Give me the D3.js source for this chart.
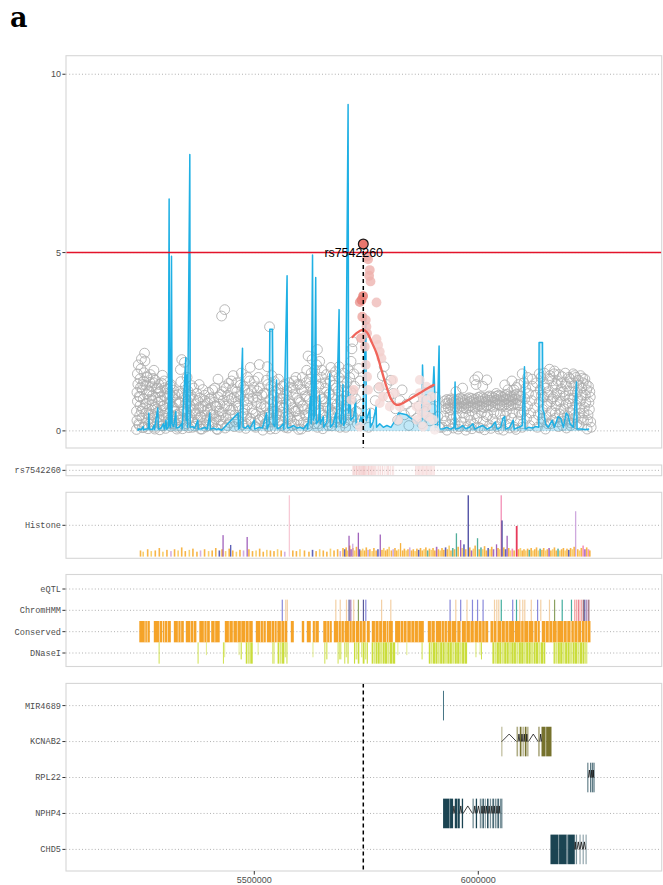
<!DOCTYPE html>
<html>
<head>
<meta charset="utf-8">
<script src="https://cdn.jsdelivr.net/npm/d3@7"></script>
<style>
  body { margin: 0; background: #fff; }
  svg { display: block; }
</style>
</head>
<body>
<svg id="fig" width="663" height="885"></svg>
<script>
// ---------------- data (positions in kb on chr1, values as drawn) ----------------
const leadSnp = { id: "rs7542260", kb: 5743.3, logp: 5.24 };
const gwsThreshold = 5;
const yTicks = [0, 5, 10];
const xTicksBp = [5500000, 6000000];

// -log10(p) of variants outside the LD block (open grey circles)
const gwasWest = [[5237,0.04],[5238,0.29],[5237,0.55],[5239,0.83],[5238,1.08],[5240,1.31],[5239,1.6],[5241,1.85],[5243,0.16],[5244,0.43],[5245,0.71],[5243,0.97],[5246,1.22],[5245,1.46],[5247,1.74],[5248,2.02],[5250,0.09],[5249,0.36],[5251,0.62],[5252,0.9],[5250,1.15],[5253,1.39],[5254,1.63],[5256,1.96],[5255,2.18],[5257,0.21],[5258,0.5],[5259,0.77],[5260,1.04],[5258,1.28],[5261,1.52],[5263,0.06],[5264,0.33],[5265,0.6],[5266,0.88],[5264,1.13],[5267,1.36],[5268,1.58],[5270,0.18],[5271,0.46],[5272,0.73],[5273,1.0],[5271,1.24],[5274,1.47],[5276,1.7],[5277,0.1],[5278,0.39],[5279,0.66],[5280,0.94],[5281,1.19],[5279,1.42],[5283,0.24],[5284,0.52],[5285,0.8],[5286,1.07],[5287,1.3],[5289,0.03],[5290,0.31],[5291,0.58],[5292,0.85],[5291,1.11],[5293,1.34],[5295,1.56],[5296,0.14],[5297,0.44],[5298,0.7],[5299,0.98],[5300,1.21],[5302,0.07],[5303,0.35],[5304,0.63],[5305,0.91],[5306,1.17],[5308,0.2],[5309,0.49],[5310,0.76],[5311,1.03],[5312,1.27],[5314,0.12],[5315,0.4],[5317,0.68],[5318,0.95],[5320,1.14],[5322,0.26],[5323,0.54],[5325,0.81],[5327,0.05],[5328,0.37],[5329,1.02]];
const gwasMidWest = [[5331,0.15],[5332,0.48],[5334,0.79],[5333,1.1],[5336,1.38],[5335,1.72],[5338,2.0],[5344,1.92],[5340,0.06],[5341,0.34],[5343,0.62],[5344,0.95],[5346,1.25],[5348,0.2],[5349,0.53],[5351,0.84],[5352,1.12],[5354,0.09],[5356,0.41],[5357,0.7],[5359,1.0],[5360,1.27],[5362,0.25],[5364,0.57],[5365,0.88],[5367,0.13],[5369,0.45],[5370,0.74],[5372,1.05],[5374,0.3],[5376,0.62],[5378,0.92],[5380,0.05],[5381,0.38],[5383,0.69],[5385,1.16],[5387,0.22],[5389,0.55],[5390,0.85],[5392,0.11],[5394,0.43],[5396,0.78],[5398,1.08],[5400,0.28],[5402,0.6],[5404,0.93],[5406,0.16],[5408,0.48],[5410,0.8],[5412,1.2],[5414,0.34],[5416,0.67],[5418,0.04],[5419,1.45],[5421,0.4],[5423,0.75],[5425,1.02],[5427,3.22],[5434,3.4],[5427,0.19],[5429,0.52],[5431,0.86],[5433,1.24],[5435,0.08],[5437,0.36],[5439,0.7],[5441,1.0],[5443,1.33],[5445,0.23],[5447,0.58],[5449,0.9],[5451,1.18],[5453,1.55],[5455,0.12],[5457,0.45],[5459,0.8],[5461,1.1],[5463,0.3],[5465,0.64],[5467,0.96],[5469,1.28],[5471,1.62],[5473,0.18],[5475,0.5],[5477,0.83],[5479,1.15],[5481,0.07],[5483,0.4],[5485,0.73],[5487,1.05],[5489,1.4],[5491,1.78],[5493,0.26],[5495,0.6],[5497,0.92],[5499,1.22],[5501,0.14],[5503,0.47],[5505,0.79],[5507,1.12],[5509,1.5],[5511,1.86],[5513,0.33],[5515,0.66],[5517,1.0],[5519,0.02]];
const gwasCentre = [[5521,0.35],[5523,0.7],[5525,1.05],[5527,1.42],[5529,1.8],[5531,0.12],[5533,0.5],[5534,2.92],[5535,0.88],[5537,1.25],[5539,0.25],[5541,0.62],[5543,1.0],[5545,1.38],[5547,0.06],[5549,0.44],[5551,0.82],[5553,1.18],[5555,0.3],[5557,0.68],[5559,1.05],[5561,0.15],[5563,0.52],[5565,0.9],[5567,1.3],[5569,0.38],[5571,0.75],[5573,1.12],[5575,0.08],[5577,0.46],[5579,0.84],[5581,1.22],[5583,0.28],[5585,0.65],[5587,1.02],[5589,1.4],[5591,0.18],[5593,0.55],[5595,0.92],[5597,1.3],[5599,0.04],[5601,0.42],[5603,0.8],[5605,1.16],[5607,1.5],[5609,0.24],[5611,0.6],[5613,0.98],[5615,1.35],[5617,1.7],[5619,0.12],[5620,2.1],[5621,0.5],[5623,0.88],[5625,1.25],[5627,1.62],[5629,2.0],[5631,0.32],[5633,0.7],[5635,1.08],[5637,1.45],[5639,1.85],[5641,2.28],[5643,0.2],[5645,0.58],[5646,1.95],[5647,0.95],[5649,1.32],[5651,1.7],[5653,0.06],[5655,0.44],[5657,0.82],[5659,1.2],[5661,1.58],[5663,0.26],[5665,0.64],[5667,1.02],[5669,1.4],[5671,1.78],[5673,0.14],[5675,0.52],[5677,0.9],[5679,1.28],[5681,1.66],[5683,0.36],[5685,0.74],[5687,1.12],[5689,1.5],[5691,0.1],[5693,0.48],[5695,0.86],[5697,1.24],[5699,1.62],[5701,0.22],[5703,0.6],[5705,0.98],[5707,1.36],[5709,1.74],[5711,0.3],[5713,0.7],[5715,1.1],[5526,0.2],[5544,0.55],[5562,0.72],[5580,0.35],[5598,0.62],[5616,0.4],[5634,0.2],[5652,0.9],[5670,0.6],[5688,0.25],[5706,0.45]];
const gwasDense = [[5242,0.2],[5245,0.95],[5248,0.55],[5251,1.3],[5254,0.1],[5257,0.75],[5260,1.5],[5263,0.45],[5266,1.1],[5269,0.25],[5272,0.85],[5275,1.35],[5278,0.05],[5281,0.6],[5284,1.2],[5287,0.4],[5290,0.95],[5293,0.15],[5296,0.7],[5299,1.4],[5302,0.5],[5305,1.05],[5308,0.3],[5311,0.8],[5314,1.3],[5317,0.2],[5320,0.65],[5323,1.0],[5326,0.45],[5329,0.1],[5332,0.8],[5335,0.3],[5338,1.05],[5341,0.55],[5344,0.15],[5347,0.75],[5350,1.5],[5353,0.35],[5356,0.95],[5359,0.6],[5362,0.1],[5365,1.2],[5368,0.5],[5371,0.2],[5374,0.85],[5377,1.3],[5380,0.4],[5383,0.05],[5386,0.7],[5389,1.0],[5392,0.3],[5395,0.6],[5398,0.15],[5401,0.9],[5404,0.45],[5407,1.15],[5410,0.25],[5413,0.7],[5416,0.05],[5419,0.95],[5422,0.55],[5425,0.3],[5428,1.1],[5431,0.4],[5434,0.7],[5437,1.2],[5440,0.15],[5443,0.85],[5446,0.45],[5449,1.4],[5452,0.6],[5455,0.95],[5458,0.25],[5461,1.35],[5464,0.7],[5467,0.1],[5470,1.0],[5473,0.4],[5476,1.25],[5479,0.6],[5482,0.2],[5485,1.5],[5488,0.9],[5491,0.35],[5494,1.1],[5497,0.5],[5500,1.4],[5503,0.1],[5506,0.95],[5509,0.3],[5512,1.2],[5515,0.75],[5518,0.4],[5521,1.05],[5524,0.2],[5527,0.65],[5530,1.3],[5533,0.45],[5536,0.05],[5539,1.55],[5542,0.8],[5545,0.3],[5548,1.1],[5551,0.5],[5554,1.45],[5557,0.2],[5560,0.9],[5563,1.25],[5566,0.65],[5569,0.1],[5572,1.0],[5575,0.4],[5578,1.35],[5581,0.75],[5584,0.15],[5587,1.2],[5590,0.55],[5593,1.5],[5596,0.3],[5599,0.85],[5602,1.3],[5605,0.05],[5608,0.7],[5611,1.15],[5614,0.45],[5617,0.95],[5620,0.2],[5623,1.45],[5626,0.6],[5629,1.1],[5632,0.35],[5635,1.7],[5638,0.8],[5641,0.1],[5644,1.25],[5647,0.5],[5650,1.5],[5653,0.9],[5656,0.3],[5659,1.35],[5662,0.65],[5665,0.15],[5668,1.05],[5671,0.45],[5674,1.55],[5677,0.75],[5680,0.25],[5683,1.2],[5686,0.55],[5689,1.8],[5692,0.85],[5695,0.3],[5698,1.4],[5701,0.7],[5704,0.1],[5707,1.1],[5710,0.5],[5713,1.5]];
const gwasLocus = [[5716,1.95],[5718,2.3],[5720,2.5],[5722,1.6],[5724,1.25],[5726,0.9],[5728,0.55],[5730,0.2],[5719,1.05],[5721,0.4],[5733,1.75],[5736,1.4],[5738,0.75],[5740,0.3],[5755,0.1],[5760,0.5],[5770,0.85],[5778,1.2],[5786,1.55],[5790,1.8],[5795,1.3],[5800,0.95],[5805,1.42],[5810,1.05],[5815,0.62],[5820,0.3],[5825,0.85],[5830,1.15],[5835,0.45],[5840,0.75],[5845,0.15],[5850,0.55],[5856,0.9],[5862,0.35],[5868,0.7],[5874,0.2],[5880,0.55],[5886,0.88],[5892,0.28],[5898,0.62],[5904,0.95],[5910,0.4],[5914,0.1]];
const gwasEast = [[5925,0.84],[5930,0.88],[5935,0.86],[5940,0.9],[5945,0.87],[5950,0.85],[5955,0.89],[5960,0.92],[5965,0.88],[5970,0.86],[5975,0.9],[5980,0.93],[5985,0.91],[5990,0.88],[5995,0.9],[6000,0.94],[6005,0.96],[6010,0.93],[6015,0.9],[6020,0.95],[6025,0.98],[6030,0.96],[6035,0.93],[6040,0.97],[6045,1.0],[6050,0.98],[6055,0.95],[6060,0.99],[6065,1.02],[6070,0.98],[6075,0.96],[6080,1.0],[6085,1.03],[6090,0.99],[6095,0.97],
  [5928,0.62],[5933,0.65],[5938,0.6],[5943,0.64],[5948,0.67],[5953,0.63],[5958,0.66],[5963,0.69],[5968,0.65],[5973,0.62],[5978,0.66],[5983,0.7],[5988,0.67],[5993,0.64],[5998,0.68],[6003,0.71],[6008,0.68],[6013,0.65],[6018,0.7],[6023,0.73],[6028,0.7],[6033,0.67],[6038,0.72],[6043,0.75],[6048,0.72],[6053,0.69],[6058,0.73],[6063,0.76],[6068,0.72],[6073,0.7],[6078,0.74],[6083,0.77],[6088,0.74],[6093,0.71],
  [5920,0.1],[5927,0.28],[5934,0.15],[5941,0.32],[5948,0.2],[5955,0.05],[5962,0.25],[5969,0.38],[5976,0.12],[5983,0.3],[5990,0.18],[5997,0.35],[6004,0.08],[6011,0.27],[6018,0.4],[6025,0.15],[6032,0.33],[6039,0.22],[6046,0.05],[6053,0.3],[6060,0.42],[6067,0.18],[6074,0.36],[6081,0.1],[6088,0.28],[6095,0.45],
  [5992,1.43],[5999,1.52],[6019,1.43],[5995,1.3],[6040,1.05],[6059,1.29],[6066,1.15],[6075,1.4],[6085,1.22],[6098,1.6],[5950,1.1],[5965,1.2],[6010,1.25]];
const gwasEastRibbon = [[5927.5,0.76],[5932.5,0.78],[5937.5,0.74],[5942.5,0.79],[5947.5,0.77],[5952.5,0.75],[5957.5,0.78],[5962.5,0.82],[5967.5,0.78],[5972.5,0.75],[5977.5,0.79],[5982.5,0.83],[5987.5,0.8],[5992.5,0.77],[5997.5,0.8],[6002.5,0.84],[6007.5,0.83],[6012.5,0.8],[6017.5,0.82],[6022.5,0.86],[6027.5,0.85],[6032.5,0.82],[6037.5,0.85],[6042.5,0.88],[6047.5,0.86],[6052.5,0.83],[6057.5,0.87],[6062.5,0.9],[6067.5,0.86],[6072.5,0.84],[6077.5,0.88],[6082.5,0.9],[6087.5,0.87],[6092.5,0.85],
  [5923,0.42],[5937,0.45],[5951,0.4],[5965,0.5],[5979,0.44],[5993,0.48],[6007,0.5],[6021,0.45],[6035,0.52],[6049,0.47],[6063,0.55],[6077,0.5],[6091,0.52],[5930,0.02],[5944,0.08],[5958,0.12],[5972,0.02],[5986,0.06],[6000,0.1],[6014,0.03],[6028,0.07],[6042,0.12],[6056,0.02],[6070,0.08],[6084,0.04],[6098,0.1],
  [6102,1.35],[6110,1.5],[6120,1.45],[6090,1.3],[6080,1.15]];
const gwasFar = [[6100,0.2],[6102,0.55],[6104,0.9],[6106,1.2],[6108,0.35],[6110,0.7],[6112,1.05],[6115,0.15],[6117,0.5],[6119,0.85],[6121,1.25],[6124,0.3],[6126,0.65],[6128,1.0],[6130,1.35],[6132,0.1],[6134,0.45],[6136,0.8],[6138,1.15],[6140,1.5],[6142,0.25],[6144,0.6],[6146,0.95],[6148,1.3],[6150,0.05],[6152,0.4],[6154,0.75],[6156,1.1],[6158,1.45],[6159,1.73],[6161,0.2],[6163,0.55],[6165,0.9],[6167,1.25],[6169,1.6],[6171,0.35],[6173,0.7],[6175,1.05],[6177,1.4],[6179,0.12],[6181,0.48],[6183,0.82],[6185,1.18],[6187,1.52],[6189,0.28],[6191,0.62],[6193,0.98],[6195,1.32],[6197,0.08],[6199,0.42],[6201,0.78],[6203,1.12],[6205,1.46],[6207,0.22],[6209,0.58],[6211,0.92],[6213,1.26],[6215,1.55],[6217,0.38],[6219,0.72],[6221,1.08],[6223,1.42],[6225,0.15],[6227,0.5],[6229,0.85],[6231,1.2],[6233,1.48],[6235,0.3],[6237,0.66],[6239,1.0],[6241,1.3],[6243,0.05],[6245,0.45],[6247,0.8],[6249,1.1],[6251,0.25]];
const gwasFarDense = [[6136,1.6],[6141,1.0],[6143,0.35],[6147,1.62],[6151,1.2],[6153,0.7],[6155,0.2],[6157,1.0],[6160,1.55],[6162,0.82],[6164,1.4],[6166,0.3],[6168,0.95],[6170,1.68],[6172,0.5],[6174,1.3],[6176,0.85],[6178,0.25],[6180,1.58],[6182,1.0],[6184,0.6],[6186,1.35],[6188,0.15],[6190,1.1],[6192,0.45],[6194,1.62],[6196,0.75],[6198,1.25],[6200,0.3],[6202,1.5],[6204,0.9],[6206,0.15],[6208,1.35],[6210,0.75],[6212,1.6],[6214,0.45],[6216,1.1],[6218,1.5],[6220,0.2],[6222,0.9],[6224,1.28],[6226,0.65],[6228,1.55],[6230,0.35],[6232,1.0],[6234,1.35],[6236,0.5],[6238,1.45],[6240,0.8],[6242,1.15],[6244,0.3],[6246,1.25],[6248,0.6],[6250,0.95],[6252,0.1]];

// variants in LD with the lead SNP: [kb, -log10 p, r2]
const ldSnps = [[5751.8,4.89,0.45],[5754.0,4.81,0.4],[5757.8,4.51,0.38],[5756.3,4.35,0.4],[5759.4,4.19,0.35],[5742.9,3.78,0.75],[5739.3,3.67,0.72],[5735.5,3.61,0.55],[5772.8,3.6,0.3],[5741,3.2,0.45],[5738,2.6,0.4],[5748.9,3.11,0.35],[5750.4,2.92,0.3],[5751.8,2.74,0.3],[5772.8,2.57,0.22],[5776.4,2.41,0.2],[5780.1,2.22,0.2],[5783.9,2.04,0.18],[5746.7,2.36,0.28],[5748.9,1.85,0.2],[5751.8,1.52,0.18],[5754,1.15,0.15],[5780.1,1.24,0.18],[5787.5,0.96,0.15],[5809.8,1.43,0.15],[5813.6,1.06,0.12],[5802.5,0.68,0.1],[5780.1,0.78,0.12],[5722.1,1.15,0.2],[5717,0.87,0.15],[5735.5,0.12,0.1],[5821,0.31,0.1],[5869.4,1.06,0.12],[5876.8,0.87,0.1],[5884.4,0.68,0.12],[5862.1,0.68,0.1],[5873.2,0.5,0.1],[5888,0.4,0.1],[5899.1,0.31,0.08],[5863.4,0.31,0.1],[5876.8,0.12,0.08],[5895.5,0.96,0.1],[5884.4,1.24,0.1],[5869.4,1.43,0.1],[5902.9,0.03,0.02],[5824.8,0.68,0.1]];

// smoothed association trend across the LD block
const ldTrend = [[5719.2,2.63],[5728.1,2.74],[5742.9,2.83],[5751.8,2.76],[5761.6,2.5],[5772.8,2.18],[5783.9,1.71],[5795.1,1.24],[5806.3,0.87],[5817.4,0.73],[5828.6,0.76],[5847.1,0.89],[5869.4,1.06],[5888,1.2],[5900.7,1.29]];

// signal trace (blue)
const signalTrace = [[5240,0],[5241,0.05],[5248,0.04],[5252,0.12],[5253,0.03],[5258,0.05],[5263,0.06],[5264.6,0.5],[5266,0.05],[5272,0.04],[5276,0.15],[5277,0.04],[5284.6,0.64],[5286,0.05],[5292,0.08],[5297,0.2],[5299,0.05],[5303,0.3],[5304,0.05],[5308,0.1],[5309.9,6.5],[5311,0.15],[5313,0.1],[5315.2,4.9],[5316.5,0.2],[5320,0.12],[5324.8,0.54],[5326,0.08],[5332,0.1],[5338,0.2],[5339,0.06],[5347.1,2.05],[5348,0.3],[5350,1.57],[5351,0.1],[5356.1,7.75],[5357,0.1],[5362,0.12],[5367,0.08],[5374,0.3],[5375,0.05],[5382,0.06],[5390,0.1],[5395,0.05],[5400.7,0.5],[5402,0.05],[5410,0.08],[5415,0.04],[5420,0.06],[5426.8,0.02],[5463.9,0.5],[5465,0.05],[5468,0.1],[5473.7,2.32],[5475,0.1],[5480,0.08],[5486,0.15],[5490,0.06],[5500,0.3],[5501,0.05],[5510,0.1],[5518,0.08],[5527.3,0.5],[5528.5,0.05],[5533,0.2],[5534.6,2.85],[5540.6,2.85],[5542,0.2],[5546,0.12],[5549.6,1.43],[5551,0.06],[5558,0.1],[5565,0.2],[5566,0.05],[5573.2,4.35],[5574.5,0.08],[5580,0.1],[5588,0.15],[5595,0.08],[5602,0.1],[5610,0.06],[5618,0.2],[5619,0.05],[5625.5,0.96],[5627,0.2],[5630,4.93],[5631.5,0.3],[5634,0.4],[5637.1,4.3],[5638.5,0.2],[5644,0.3],[5646,1.0],[5647.5,0.2],[5654,0.4],[5655,0.1],[5662,0.25],[5668.5,1.6],[5670,0.1],[5676,0.2],[5682,0.5],[5683,0.1],[5689.3,3.4],[5690.5,0.3],[5694,0.2],[5698,1.3],[5699.5,0.15],[5704,0.3],[5709.4,9.15],[5710.5,0.5],[5714,1.0],[5715.5,0.3],[5722,0.4],[5726,0.9],[5727.5,0.15],[5734,0.2],[5738,0.4],[5742,0.2],[5748.9,3.25],[5750,0.3],[5758,0.6],[5759,0.1],[5765,0.25],[5772,0.68],[5773,0.1],[5780,0.2],[5788,0.1],[5796,0.15],[5805,0.1],[5815,0.3],[5822,0.5],[5840,0.45],[5850,0.35],[5858,0.3],[5865,0.2],[5874,0.3],[5875.5,1.85],[5877,1.2],[5890,1.2],[5899,1.25],[5901,1.8],[5902.5,1.2],[5904,0.1],[5908,0.1],[5912.5,2.38],[5914,0.05],[5922,0.06],[5930,0.1],[5938,0.05],[5946,0.1],[5948.2,1.37],[5949.5,0.05],[5958,0.08],[5965,0.15],[5972,0.06],[5980,0.1],[5988,0.2],[5992,0.05],[6000,0.1],[6010,0.15],[6020,0.05],[6030,0.12],[6038,0.25],[6042,0.05],[6050,0.1],[6055,0.35],[6059.1,0.4],[6061,0.05],[6070,0.1],[6078,0.3],[6080,0.05],[6090,0.1],[6098,0.15],[6103.1,1.8],[6104.5,0.05],[6112,0.1],[6120,0.08],[6128,0.12],[6135,0.1],[6135.7,2.48],[6143.3,2.48],[6144,0.6],[6147,0.5],[6150,0.2],[6156,0.1],[6165,0.3],[6170,0.1],[6178,0.4],[6184,0.35],[6190,0.1],[6196,0.5],[6200,0.45],[6205,0.2],[6212,0.1],[6219.2,1.37],[6220.5,0.05],[6230,0.05],[6240,0.04],[6247.4,0.05]];

// LD (r2) of nearby variants with rs7542260
const ldTrack = [[5720,0.25],[5722.5,0.4],[5725,0.3],[5728,0.5],[5731,0.35],[5734,0.6],[5737,0.3],[5740,0.55],[5743,0.7],[5746,0.4],[5749,0.5],[5752,0.3],[5755,0.45],[5758,0.35],[5761,0.5],[5764,0.25],[5767,0.4],[5770,0.3],[5774,0.2],[5778,0.35],[5782,0.25],[5786,0.3],[5790,0.15],[5794,0.1],[5797,0.25],[5800,0.3],[5804,0.15],[5808,0.2],[5811,0.12],[5860,0.2],[5863,0.25],[5866,0.3],[5869,0.2],[5872,0.25],[5875,0.3],[5878,0.2],[5881,0.25],[5884,0.3],[5887,0.2],[5890,0.25],[5893,0.2],[5896,0.25],[5899,0.2],[5902,0.15]];

// histone marks: [kb, relative signal, mark]
const histoneBase = [[5246,0.1,'o'],[5252,0.08,'y'],[5262,0.12,'o'],[5270,0.09,'y'],[5279,0.1,'o'],[5288,0.14,'o'],[5296,0.08,'y'],[5305,0.11,'o'],[5314,0.09,'l'],[5322,0.12,'o'],[5330,0.1,'y'],[5338,0.15,'o'],[5346,0.09,'o'],[5355,0.11,'y'],[5363,0.13,'o'],[5372,0.08,'o'],[5380,0.1,'l'],[5389,0.12,'o'],[5398,0.09,'y'],[5406,0.1,'o'],[5414,0.14,'o'],[5422,0.1,'b'],[5428,0.12,'o'],[5436,0.09,'y'],[5444,0.13,'o'],[5452,0.1,'o'],[5460,0.08,'y'],[5468,0.11,'o'],[5476,0.1,'l'],[5488,0.12,'o'],[5496,0.09,'o'],[5504,0.1,'y'],[5512,0.13,'o'],[5520,0.08,'o'],[5528,0.11,'y'],[5536,0.1,'o'],[5544,0.09,'o'],[5552,0.12,'y'],[5560,0.1,'o'],[5568,0.08,'l'],[5586,0.1,'o'],[5594,0.09,'o'],[5602,0.12,'y'],[5612,0.1,'o'],[5622,0.08,'o'],[5630,0.11,'b'],[5638,0.09,'o'],[5646,0.12,'y'],[5654,0.1,'o'],[5662,0.08,'o'],[5670,0.13,'y'],[5678,0.1,'o'],[5686,0.12,'o'],[5692,0.09,'l'],[5698,0.14,'o'],
  [5702,0.12,'b'],[5705,0.15,'o'],[5708,0.1,'y'],[5713,0.18,'o'],[5716,0.12,'p'],[5720,0.14,'o'],[5724,0.1,'y'],[5728,0.16,'o'],[5735,0.12,'b'],[5738,0.1,'o'],[5742,0.13,'y'],[5746,0.1,'o'],[5750,0.15,'o'],[5754,0.11,'l'],[5758,0.12,'o'],[5763,0.09,'y'],[5767,0.14,'o'],[5772,0.1,'o'],[5776,0.12,'b'],[5785,0.11,'o'],[5789,0.14,'y'],[5793,0.1,'o'],[5797,0.12,'o'],[5801,0.16,'y'],[5806,0.1,'o'],[5810,0.12,'l'],[5814,0.14,'o'],[5818,0.1,'o'],[5822,0.12,'y'],[5831,0.1,'o'],[5835,0.13,'o'],[5839,0.1,'y'],[5843,0.12,'o'],[5847,0.15,'l'],[5851,0.1,'o'],[5855,0.12,'o'],[5859,0.09,'y'],[5863,0.13,'o'],[5867,0.11,'b'],[5871,0.14,'o'],[5875,0.1,'o'],[5879,0.12,'y'],[5883,0.15,'o'],[5887,0.1,'t'],[5891,0.13,'o'],[5895,0.11,'y'],[5899,0.14,'o'],[5903,0.1,'o'],[5907,0.16,'p'],[5911,0.12,'o'],[5915,0.1,'y'],[5919,0.14,'o'],[5923,0.11,'o'],[5927,0.15,'b'],[5931,0.12,'o'],[5935,0.18,'y'],[5939,0.1,'o'],[5943,0.14,'t'],[5947,0.12,'o'],[5955,0.16,'o'],[5964,0.14,'y'],[5968,0.2,'b'],[5972,0.12,'o'],[5981,0.15,'o'],[5985,0.1,'p'],[5989,0.13,'y'],[5993,0.18,'o'],[6002,0.12,'o'],[6006,0.15,'t'],[6010,0.12,'y'],[6014,0.17,'o'],[6018,0.1,'o'],[6022,0.14,'b'],[6026,0.12,'y'],[6030,0.16,'o'],[6034,0.12,'p'],[6044,0.14,'o'],[6048,0.12,'y'],[6057,0.15,'o'],[6061,0.12,'b'],[6068,0.14,'o'],[6072,0.1,'y'],[6076,0.13,'k'],[6080,0.1,'o'],[6090,0.12,'o'],[6094,0.14,'y'],[6098,0.1,'o'],[6102,0.12,'o'],[6106,0.1,'y'],[6110,0.13,'o'],[6114,0.11,'t'],[6118,0.14,'o'],[6122,0.1,'y'],[6126,0.12,'o'],[6130,0.15,'o'],[6134,0.1,'y'],[6138,0.13,'t'],[6142,0.11,'o'],[6146,0.14,'o'],[6150,0.1,'y'],[6154,0.12,'o'],[6158,0.14,'p'],[6162,0.1,'o'],[6166,0.12,'y'],[6170,0.15,'o'],[6174,0.1,'o'],[6178,0.13,'t'],[6182,0.1,'y'],[6186,0.12,'o'],[6190,0.14,'o'],[6194,0.1,'y'],[6198,0.13,'o'],[6202,0.11,'b'],[6206,0.14,'o'],[6210,0.12,'y'],[6214,0.16,'o'],[6222,0.12,'o'],[6226,0.1,'y'],[6230,0.14,'o'],[6234,0.18,'k'],[6238,0.12,'p'],[6242,0.15,'o'],[6246,0.12,'k'],[6249,0.1,'o']];
const histonePeaks = [[5578.4,1.0,'s'],[5430.4,0.35,'p'],[5447.4,0.19,'b'],[5484.2,0.32,'p'],[5711.6,0.34,'p'],[5719.9,0.21,'l'],[5732.4,0.39,'p'],[5781.3,0.36,'p'],[5826.6,0.22,'o'],[5951.3,0.38,'t'],[5960.7,0.27,'p'],[5977.7,1.0,'d'],[5998.4,0.3,'t'],[6040.8,0.2,'p'],[6051.3,1.0,'k'],[6053.1,0.59,'d'],[6064.5,0.34,'p'],[6085.3,0.5,'r'],[6217.4,0.74,'l']];

// annotation tracks
const annotLevels = ["eQTL", "ChromHMM", "Conserved", "DNaseI"];
const chromHMM = [[5562.5,'b'],[5570.3,'t'],[5573.7,'t'],[5682,'t'],[5691.8,'t'],[5705.8,'t'],[5711.6,'B'],[5715.4,'p'],[5722,'t'],[5732.4,'o'],[5743.6,'B'],[5748.9,'b'],[5784.2,'t'],[5804.7,'t'],[5937,'b'],[5949.8,'t'],[5960.7,'b'],[5974.8,'t'],[5987,'b'],[5998.4,'b'],[6010.7,'b'],[6036.2,'t'],[6041.3,'t'],[6045.8,'t'],[6051.3,'g'],[6076.8,'b'],[6085.3,'g'],[6092.6,'t'],[6099.3,'t'],[6103.8,'t'],[6118.3,'t'],[6132.4,'b'],[6139.5,'t'],[6158.9,'t'],[6170.3,'o'],[6187.3,'g'],[6208,'g'],[6215.4,'k'],[6219.8,'k'],[6224.3,'r'],[6229.7,'k'],[6234.4,'m'],[6237.7,'B'],[6242.2,'p'],[6246.7,'m']];
const conserved = [[5243.3,5266.8],[5275.7,5294],[5295.5,5313.7],[5320.4,5342.7],[5347.1,5370.8],[5377.3,5400.7],[5403.8,5422.8],[5434.2,5452],[5453.5,5470],[5471,5496.5],[5503.4,5525.7],[5527.9,5550],[5551.5,5573.7],[5581.5,5588.2],[5606,5611.4],[5617.2,5626.1],[5630.6,5644],[5654,5673],[5677.5,5700],[5701.5,5725],[5726.5,5748.5],[5751.1,5757.8],[5762.3,5785],[5786.5,5809.2],[5814.3,5840],[5841.5,5878.4],[5887.3,5902.9],[5905.1,5930],[5931.5,5951.1],[5953.1,5960.5],[5963.2,5990],[5991.5,6022.1],[6027.2,6040.8],[6042.8,6080],[6081.5,6123],[6125,6137.3],[6141.7,6175],[6176.5,6206],[6207.8,6230],[6231.5,6250.4]];
// hairline breaks inside conserved blocks
const conservedBreaks = [5256,5261,5288,5300,5306,5330,5336,5358,5364,5388,5394,5412,5444,5462,5480,5488,5514,5520,5538,5545,5560,5567,5636,5662,5668,5688,5694,5712,5718,5735,5741,5770,5778,5795,5800,5826,5833,5850,5858,5866,5895,5918,5924,5940,5973,5982,6000,6008,6015,6034,6052,6060,6068,6095,6102,6112,6132,6150,6158,6166,6190,6198,6214,6222,6238,6244];
// DNase I hypersensitivity: [start kb, end kb, relative depth, strong?]
const dnase = [[5286.5,5288,1,1],[5373.5,5375,1,1],[5392,5393.5,0.6,0],[5430,5431.5,1,1],[5433,5434.5,0.7,0],[5465,5467,0.6,0],[5469.5,5472,0.8,1],[5481,5484,1,1],[5484.8,5490,1,0],[5491,5496.5,1,1],[5507.5,5509,0.6,0],[5540.5,5542,1,1],[5543,5545.5,1,0],[5552,5555.5,1,1],[5556.5,5561,1,0],[5562,5567,1,1],[5568,5571,0.7,0],[5571.8,5574,1,1],[5630,5632,0.7,0],[5656.5,5658.5,1,1],[5660,5663.5,0.8,0],[5686,5688,1,1],[5689,5694.5,0.8,0],[5701,5703,1,1],[5704,5707,0.7,0],[5708,5710.5,1,1],[5722.5,5725,1,1],[5726,5730,0.8,0],[5731,5734.5,1,1],[5738.5,5741,0.7,0],[5742,5746,1,1],[5747,5750,0.8,0],[5751,5753.5,1,1],[5762,5765.5,1,1],[5766.3,5770,1,0],[5770.8,5775,1,1],[5775.8,5780,1,1],[5780.8,5786,1,0],[5786.8,5791,1,1],[5791.8,5797,1,1],[5797.8,5802,1,0],[5802.8,5808,1,1],[5808.8,5814.5,1,1],[5819.5,5821,0.6,0],[5839.5,5841,0.6,0],[5873.5,5875,0.8,1],[5889.5,5893,1,1],[5893.8,5898,1,0],[5898.8,5903.5,1,1],[5904.3,5909,1,1],[5909.8,5914,1,0],[5914.8,5919.5,1,1],[5920.3,5925,1,1],[5925.8,5930,1,0],[5930.8,5936,1,1],[5936.8,5941,1,1],[5941.8,5947,1,0],[5947.8,5952,1,1],[5952.8,5958,1,1],[5958.8,5963,1,0],[5963.8,5969,1,1],[5969.8,5975,1,1],[5993.5,5996,0.7,0],[6003,6005,0.6,0],[6006,6008,0.8,1],[6031.5,6035,1,1],[6035.8,6040,1,0],[6040.8,6046,1,1],[6046.8,6051,1,1],[6051.8,6057,1,0],[6057.8,6062,1,1],[6062.8,6068,1,1],[6068.8,6073,1,0],[6073.8,6079,1,1],[6079.8,6084,1,1],[6084.8,6090,1,0],[6090.8,6095,1,1],[6095.8,6101,1,1],[6101.8,6106,1,0],[6106.8,6112,1,1],[6112.8,6117,1,1],[6117.8,6123,1,0],[6123.8,6128,1,1],[6128.8,6134,1,1],[6134.8,6139,1,0],[6139.8,6145,1,1],[6145.8,6149.5,1,1],[6168,6171,1,1],[6171.8,6177,1,0],[6177.8,6182,1,1],[6182.8,6188,1,1],[6188.8,6193,1,0],[6193.8,6199,1,1],[6199.8,6204,1,1],[6204.8,6210,1,0],[6210.8,6215,1,1],[6215.8,6221,1,1],[6221.8,6226,1,0],[6226.8,6232,1,1],[6232.8,6237,1,1],[6237.8,6243.5,1,0]];

// gene models: exons [start kb, end kb, dark?]
const geneNames = ["MIR4689", "KCNAB2", "RPL22", "NPHP4", "CHD5"];
const exonsMIR4689 = [[5921.2,5921.8,1]];
const exonsKCNAB2 = [[6051.5,6052.5,0],[6085.3,6088.9,0],[6092.6,6096.4,1],[6098.7,6101.6,0],[6103.8,6107.6,1],[6109,6112.1,0],[6133.5,6137.3,0],[6141.1,6149,1],[6149,6151.5,0],[6151.5,6163.4,1]];
const exonsRPL22 = [[6242.9,6246,0],[6250,6252,1],[6254.5,6256,1],[6257.5,6260,0]];
const exonsNPHP4 = [[5921.4,5935.5,1],[5935.5,5937,0],[5937,5943.8,1],[5947.5,5952.5,1],[5953.5,5958.7,1],[5963.2,5966.1,1],[5987,5990,0],[5994.4,5997.3,1],[6003.3,6007.1,0],[6009.4,6012.3,1],[6014.5,6016.7,0],[6019.6,6022.8,1],[6025.7,6028.6,0],[6031.7,6034.6,1],[6036.8,6040.6,0],[6042.8,6045.8,1],[6048,6054,0]];
const exonsCHD5 = [[6161.1,6178.1,1],[6178.1,6180.3,0],[6180.3,6196.9,1],[6196.9,6200.4,0],[6200.4,6215.4,1],[6217.6,6220.5,0],[6226,6227.2,0],[6233,6234.2,0],[6239.5,6241.5,0]];

// ---------------- drawing ----------------
const svg = d3.select("#fig");
const bp = kb => kb * 1000;
const PL = 66, PR = 661.7;
const x = d3.scaleLinear().domain([5079700, 6409400]).range([PL, PR]);

const panels = {
  main:  { top: 55.7,  bottom: 448 },
  ld:    { top: 465,   bottom: 475.7 },
  hist:  { top: 492.3, bottom: 558.3 },
  annot: { top: 574.5, bottom: 666.5 },
  gene:  { top: 683.4, bottom: 871 }
};

const labelGrey = "#4d4d4d";
const sansFont = "'Liberation Sans', Arial, sans-serif";
const monoFont = "'Liberation Mono', 'Courier New', monospace";

const defs = svg.append("defs");
Object.entries(panels).forEach(([k, p]) => {
  defs.append("clipPath").attr("id", "clip-" + k)
    .append("rect").attr("x", PL).attr("y", p.top).attr("width", PR - PL).attr("height", p.bottom - p.top);
});

function panelGroup(key) {
  return svg.append("g").attr("clip-path", `url(#clip-${key})`);
}
function dottedRule(g, y) {
  g.append("line").attr("x1", PL).attr("x2", PR).attr("y1", y).attr("y2", y)
    .attr("stroke", "#a8a8a8").attr("stroke-width", 0.9).attr("stroke-dasharray", "1,2.2");
}
function yLabel(y, text, mono) {
  svg.append("line").attr("x1", PL - 3.6).attr("x2", PL).attr("y1", y).attr("y2", y)
    .attr("stroke", "#333").attr("stroke-width", 1);
  svg.append("text").attr("x", PL - 5).attr("y", y).attr("dy", "0.34em")
    .attr("text-anchor", "end").attr("fill", labelGrey)
    .attr("font-family", mono ? monoFont : sansFont)
    .attr("font-size", mono ? 8.6 : 9).text(text);
}
function frame(p) {
  svg.append("rect").attr("x", PL).attr("y", p.top).attr("width", PR - PL).attr("height", p.bottom - p.top)
    .attr("fill", "none").attr("stroke", "#d6d6d6").attr("stroke-width", 1.1);
}

// panel tag
svg.append("text").attr("x", 10).attr("y", 26.5).attr("font-family", "'DejaVu Serif', 'Liberation Serif', serif")
  .attr("font-weight", "bold").attr("font-size", 27).attr("fill", "#000").text("a");

// ---- association panel ----
const yMain = d3.scaleLinear().domain([-0.48, 10.52]).range([panels.main.bottom, panels.main.top]);
const gm = panelGroup("main");
yTicks.forEach(t => dottedRule(gm, yMain(t)));

const greyPts = [].concat(gwasWest, gwasMidWest, gwasCentre, gwasDense, gwasLocus, gwasEast, gwasEastRibbon, gwasFar, gwasFarDense);
gm.append("g").selectAll("circle").data(greyPts).join("circle")
  .attr("cx", d => x(bp(d[0]))).attr("cy", d => yMain(d[1])).attr("r", 4.9)
  .attr("fill", "none").attr("stroke", "#acacac").attr("stroke-width", 0.85);

const sigArea = d3.area().x(d => x(bp(d[0]))).y0(yMain(0)).y1(d => yMain(d[1]));
const sigLine = d3.line().x(d => x(bp(d[0]))).y(d => yMain(d[1]));
gm.append("path").datum(signalTrace).attr("d", sigArea).attr("fill", "#22aee3").attr("fill-opacity", 0.28);
gm.append("path").datum(signalTrace).attr("d", sigLine).attr("fill", "none")
  .attr("stroke", "#1fb0e4").attr("stroke-width", 1.5).attr("stroke-linejoin", "round");

const ldColour = d3.scaleLinear().domain([0, 1]).range(["#f6ecec", "#e2594f"]).interpolate(d3.interpolateRgb);
gm.append("g").selectAll("circle").data(ldSnps.slice().sort((a, b) => a[2] - b[2])).join("circle")
  .attr("cx", d => x(bp(d[0]))).attr("cy", d => yMain(d[1])).attr("r", 4.9)
  .attr("fill", d => ldColour(d[2])).attr("fill-opacity", 0.85);

gm.append("path").datum(ldTrend)
  .attr("d", d3.line().x(d => x(bp(d[0]))).y(d => yMain(d[1])).curve(d3.curveCatmullRom))
  .attr("fill", "none").attr("stroke", "#f0645a").attr("stroke-width", 2.3).attr("stroke-linecap", "round");

gm.append("line").attr("x1", PL).attr("x2", PR).attr("y1", yMain(gwsThreshold)).attr("y2", yMain(gwsThreshold))
  .attr("stroke", "#e3142b").attr("stroke-width", 1.4);

const leadX = x(bp(leadSnp.kb));
gm.append("line").attr("x1", leadX).attr("x2", leadX).attr("y1", yMain(leadSnp.logp)).attr("y2", panels.main.bottom)
  .attr("stroke", "#000").attr("stroke-width", 1.5).attr("stroke-dasharray", "4,3");
gm.append("circle").attr("cx", leadX).attr("cy", yMain(leadSnp.logp)).attr("r", 4.9)
  .attr("fill", "#e8766e").attr("stroke", "#1a1a1a").attr("stroke-width", 1.2);
gm.append("text").attr("x", leadX - 9.6).attr("y", yMain(gwsThreshold) + 4.2)
  .attr("text-anchor", "middle").attr("font-family", sansFont).attr("font-size", 12.4)
  .attr("fill", "#000").text(leadSnp.id);

yTicks.forEach(t => yLabel(yMain(t), String(t), false));
frame(panels.main);

// ---- LD track ----
const gl = panelGroup("ld");
const ldMid = (panels.ld.top + panels.ld.bottom) / 2;
dottedRule(gl, ldMid);
gl.selectAll("rect").data(ldTrack).join("rect")
  .attr("x", d => x(bp(d[0] - 1.2))).attr("width", d => x(bp(d[0] + 1.2)) - x(bp(d[0] - 1.2)))
  .attr("y", panels.ld.top + 0.6).attr("height", panels.ld.bottom - panels.ld.top - 1.2)
  .attr("fill", "#e07b7b").attr("fill-opacity", d => 0.12 + d[1] * 0.55);
yLabel(ldMid, leadSnp.id, true);
frame(panels.ld);

// ---- histone track ----
const histColours = { o: "#f5a31a", y: "#f7c44a", p: "#9146b0", b: "#3b3fa8", k: "#f07aa8", t: "#34a08a", l: "#c79ad8", r: "#e3173e", s: "#f4b4c4", d: "#26268e" };
const yHist = d3.scaleLinear().domain([0, 1]).range([556.6, 495.3]);
const gh = panelGroup("hist");
const histMid = (panels.hist.top + panels.hist.bottom) / 2;
dottedRule(gh, histMid);
gh.append("g").selectAll("rect").data(histoneBase).join("rect")
  .attr("x", d => x(bp(d[0])) - 0.8).attr("width", 1.6)
  .attr("y", d => yHist(d[1])).attr("height", d => yHist(0) - yHist(d[1]))
  .attr("fill", d => histColours[d[2]]).attr("fill-opacity", 0.8);
gh.append("g").selectAll("rect").data(histonePeaks).join("rect")
  .attr("x", d => x(bp(d[0])) - 0.7).attr("width", d => d[2] === 'r' ? 1.8 : 1.3)
  .attr("y", d => yHist(d[1])).attr("height", d => yHist(0) - yHist(d[1]))
  .attr("fill", d => histColours[d[2]]).attr("fill-opacity", d => d[2] === 's' ? 0.7 : 0.85);
yLabel(histMid, "Histone", true);
frame(panels.hist);

// ---- regulatory annotation tracks ----
const yAnnot = d3.scalePoint().domain(annotLevels).range([589, 653]);
const half = yAnnot.step() / 2;
const ga = panelGroup("annot");
annotLevels.forEach(l => dottedRule(ga, yAnnot(l)));
const hmmColours = { b: "#6c6cd2", B: "#2f2f82", t: "#f0c48e", g: "#139a86", o: "#6e8a3a", k: "#ef8080", r: "#e04a5a", m: "#7a3c4c", p: "#8e5aa0" };
ga.append("g").selectAll("rect").data(conserved).join("rect")
  .attr("x", d => x(bp(d[0]))).attr("width", d => x(bp(d[1])) - x(bp(d[0])))
  .attr("y", yAnnot("Conserved") - half).attr("height", 2 * half)
  .attr("fill", "#f49e1c").attr("fill-opacity", 0.95);
ga.append("g").selectAll("rect").data(conservedBreaks).join("rect")
  .attr("x", d => x(bp(d)) - 0.35).attr("width", 0.7)
  .attr("y", yAnnot("Conserved") - half).attr("height", 2 * half)
  .attr("fill", "#fff").attr("fill-opacity", 0.75);
ga.append("g").selectAll("rect").data(dnase).join("rect")
  .attr("x", d => x(bp(d[0]))).attr("width", d => Math.max(0.9, x(bp(d[1])) - x(bp(d[0]))))
  .attr("y", yAnnot("DNaseI") - half).attr("height", d => 2 * half * d[2])
  .attr("fill", "#c6da2a").attr("fill-opacity", d => d[3] ? 0.92 : 0.6);
ga.append("g").selectAll("rect").data(chromHMM).join("rect")
  .attr("x", d => x(bp(d[0])) - 0.6).attr("width", 1.2)
  .attr("y", yAnnot("ChromHMM") - half).attr("height", 2 * half)
  .attr("fill", d => hmmColours[d[1]]).attr("fill-opacity", 0.8);
annotLevels.forEach(l => yLabel(yAnnot(l), l, true));
frame(panels.annot);

// ---- gene models ----
const yGene = d3.scalePoint().domain(geneNames).range([705.6, 849.4]);
const exonHalf = 14.8;
const genes = [
  { name: "MIR4689", colour: "#3d6e7e", exons: exonsMIR4689 },
  { name: "KCNAB2",  colour: "#6f6a22", exons: exonsKCNAB2 },
  { name: "RPL22",   colour: "#0f3a49", exons: exonsRPL22 },
  { name: "NPHP4",   colour: "#0f3a49", exons: exonsNPHP4 },
  { name: "CHD5",    colour: "#0f3a49", exons: exonsCHD5 }
];
const gg = panelGroup("gene");
geneNames.forEach(n => dottedRule(gg, yGene(n)));
genes.forEach(g => {
  const cy = yGene(g.name);
  const ex = g.exons;
  // introns as chevrons between consecutive exons
  const pts = [];
  for (let i = 0; i < ex.length - 1; i++) {
    const a = x(bp(ex[i][1])), b = x(bp(ex[i + 1][0]));
    if (b - a > 0.5) {
      pts.push([[a, cy], [(a + b) / 2, cy - 7.5], [b, cy]]);
    }
  }
  gg.append("g").selectAll("rect").data(ex).join("rect")
    .attr("x", d => x(bp(d[0]))).attr("width", d => Math.max(1, x(bp(d[1])) - x(bp(d[0]))))
    .attr("y", cy - exonHalf).attr("height", 2 * exonHalf)
    .attr("fill", g.colour).attr("fill-opacity", d => d[2] ? 0.95 : 0.55);
  gg.append("g").selectAll("polyline").data(pts).join("polyline")
    .attr("points", d => d.map(p => p.join(",")).join(" "))
    .attr("fill", "none").attr("stroke", "#111").attr("stroke-width", 0.8);
});
gg.append("line").attr("x1", leadX).attr("x2", leadX).attr("y1", panels.gene.top).attr("y2", panels.gene.bottom)
  .attr("stroke", "#000").attr("stroke-width", 1.5).attr("stroke-dasharray", "4,3");
geneNames.forEach(n => yLabel(yGene(n), n, true));
frame(panels.gene);

// x axis
const xAxis = svg.append("g");
xTicksBp.forEach(t => {
  xAxis.append("line").attr("x1", x(t)).attr("x2", x(t)).attr("y1", panels.gene.bottom).attr("y2", panels.gene.bottom + 3.6)
    .attr("stroke", "#333").attr("stroke-width", 1);
  xAxis.append("text").attr("x", x(t)).attr("y", panels.gene.bottom + 11.5)
    .attr("text-anchor", "middle").attr("font-family", sansFont).attr("font-size", 9)
    .attr("fill", labelGrey).text(d3.format("d")(t));
});
</script>
</body>
</html>
